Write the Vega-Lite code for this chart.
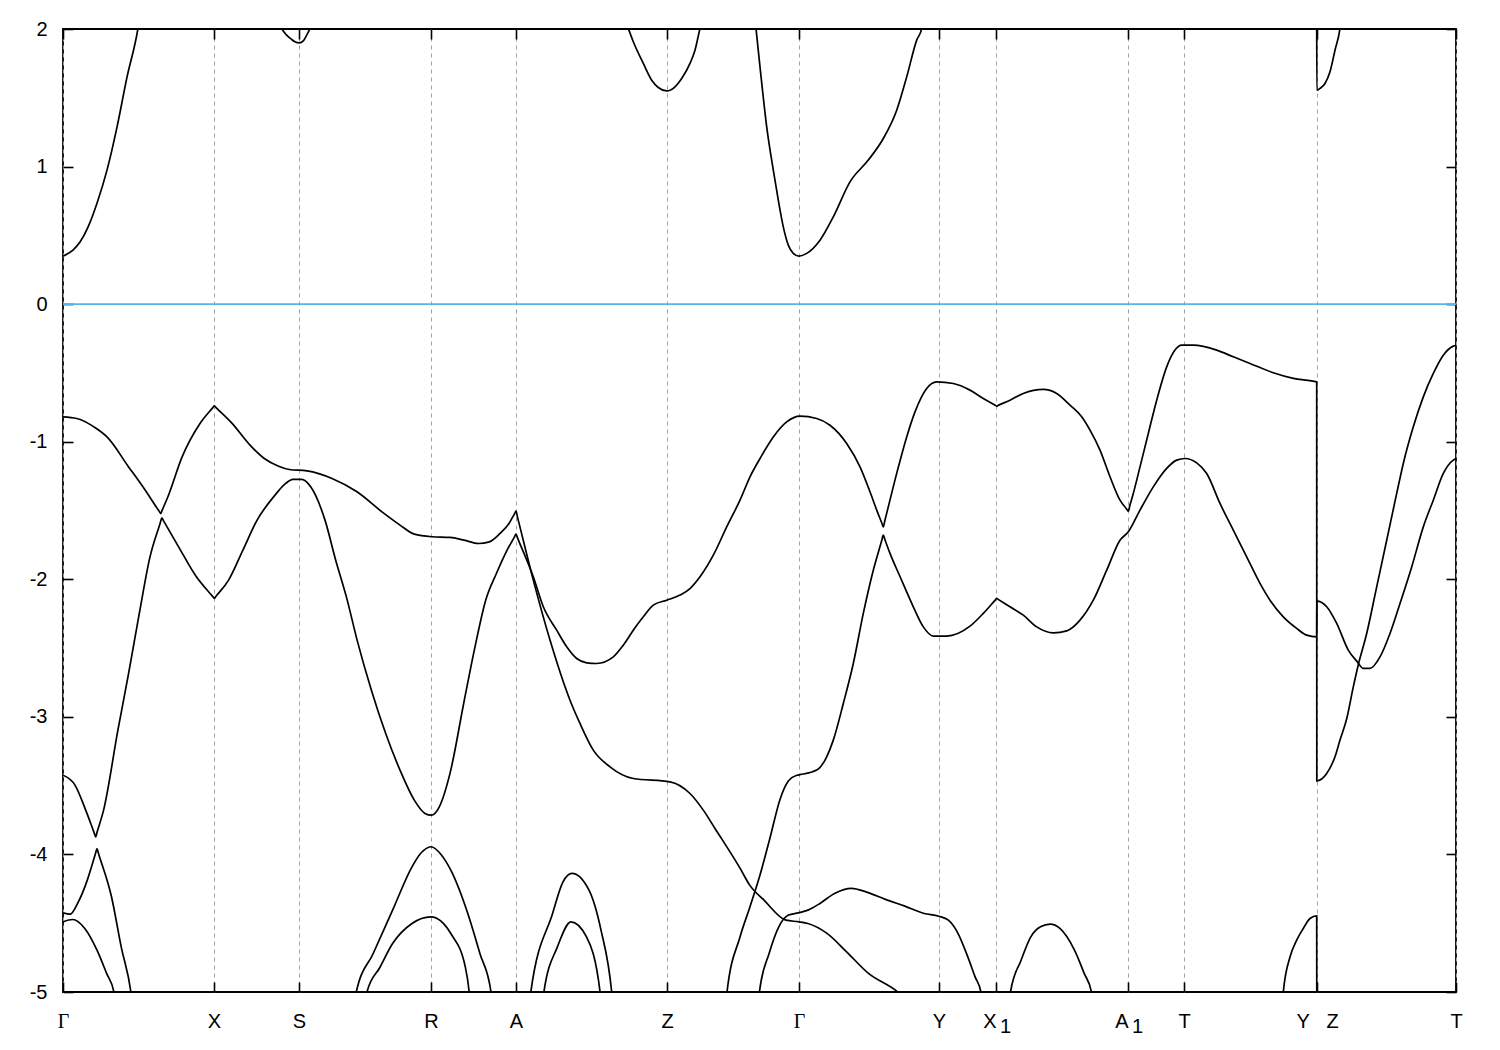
{
  "$schema": "https://vega.github.io/schema/vega-lite/v6.json",
  "width": 1393,
  "height": 963,
  "autosize": {"type": "none"},
  "padding": {"left": 63, "top": 29, "right": 44, "bottom": 58},
  "background": "white",
  "config": {
    "view": {"stroke": "black", "strokeWidth": 1.8},
    "font": "Liberation Sans",
    "axis": {"labelFont": "Liberation Sans", "labelFontSize": 20, "labelColor": "black", "tickColor": "black", "tickWidth": 1.6, "domain": false, "labelFlush": false, "labelOverlap": false, "title": null}
  },
  "datasets": {
    "bands": [
      {"b":"C1","k":0,"E":0.349},{"b":"C1","k":10,"E":0.393},{"b":"C1","k":17,"E":0.451},{"b":"C1","k":25,"E":0.56},{"b":"C1","k":34,"E":0.734},{"b":"C1","k":44,"E":0.974},{"b":"C1","k":54,"E":1.287},{"b":"C1","k":64,"E":1.65},{"b":"C1","k":75,"E":2.006},{"b":"C1","k":77,"E":2.1},
      {"b":"C2","k":216,"E":2.05},{"b":"C2","k":218.7,"E":2.004},{"b":"C2","k":223.7,"E":1.955},{"b":"C2","k":228.7,"E":1.924},{"b":"C2","k":232,"E":1.907},{"b":"C2","k":236.3,"E":1.899},{"b":"C2","k":240.3,"E":1.914},{"b":"C2","k":243.7,"E":1.955},{"b":"C2","k":247,"E":2.004},{"b":"C2","k":249.5,"E":2.05},
      {"b":"C3","k":562.3,"E":2.06},{"b":"C3","k":565.3,"E":2.004},{"b":"C3","k":570.3,"E":1.907},{"b":"C3","k":580.3,"E":1.75},{"b":"C3","k":588.7,"E":1.628},{"b":"C3","k":595.3,"E":1.575},{"b":"C3","k":603.7,"E":1.55},{"b":"C3","k":612,"E":1.58},{"b":"C3","k":618.7,"E":1.64},{"b":"C3","k":627,"E":1.75},{"b":"C3","k":632,"E":1.846},{"b":"C3","k":637,"E":2.004},{"b":"C3","k":639,"E":2.06},
      {"b":"C4","k":692.2,"E":2.06},{"b":"C4","k":693,"E":2.004},{"b":"C4","k":697,"E":1.725},{"b":"C4","k":703.7,"E":1.289},{"b":"C4","k":710.3,"E":0.974},{"b":"C4","k":715.3,"E":0.756},{"b":"C4","k":720.3,"E":0.562},{"b":"C4","k":725.3,"E":0.429},{"b":"C4","k":730.3,"E":0.369},{"b":"C4","k":736,"E":0.349},{"b":"C4","k":743.7,"E":0.369},{"b":"C4","k":757,"E":0.465},{"b":"C4","k":770.3,"E":0.635},{"b":"C4","k":787,"E":0.889},{"b":"C4","k":805.3,"E":1.047},{"b":"C4","k":820.3,"E":1.204},{"b":"C4","k":833.7,"E":1.41},{"b":"C4","k":843.7,"E":1.652},{"b":"C4","k":853.7,"E":1.919},{"b":"C4","k":858.7,"E":2.004},{"b":"C4","k":860,"E":2.06},
      {"b":"C5","k":1253.7,"E":2.1},{"b":"C5","k":1253.8,"E":1.555},{"b":"C5","k":1257,"E":1.568},{"b":"C5","k":1262,"E":1.604},{"b":"C5","k":1267,"E":1.689},{"b":"C5","k":1272,"E":1.846},{"b":"C5","k":1277,"E":2.004},{"b":"C5","k":1278,"E":2.06},
      {"b":"V1","k":0,"E":-0.819},{"b":"V1","k":13.8,"E":-0.831},{"b":"V1","k":33.4,"E":-0.904},{"b":"V1","k":44,"E":-0.965},{"b":"V1","k":65.6,"E":-1.183},{"b":"V1","k":79.9,"E":-1.328},{"b":"V1","k":96.2,"E":-1.506},{"b":"V1","k":97.7,"E":-1.522},{"b":"V1","k":99.2,"E":-1.497},{"b":"V1","k":104.9,"E":-1.4},{"b":"V1","k":119.1,"E":-1.11},{"b":"V1","k":137,"E":-0.867},{"b":"V1","k":149.8,"E":-0.752},{"b":"V1","k":151.3,"E":-0.739},{"b":"V1","k":152.8,"E":-0.75},{"b":"V1","k":169.1,"E":-0.867},{"b":"V1","k":187,"E":-1.025},{"b":"V1","k":201.3,"E":-1.122},{"b":"V1","k":215.6,"E":-1.178},{"b":"V1","k":226.3,"E":-1.202},{"b":"V1","k":244,"E":-1.212},{"b":"V1","k":269,"E":-1.267},{"b":"V1","k":294,"E":-1.364},{"b":"V1","k":319,"E":-1.51},{"b":"V1","k":337,"E":-1.606},{"b":"V1","k":351.3,"E":-1.672},{"b":"V1","k":369,"E":-1.691},{"b":"V1","k":387,"E":-1.696},{"b":"V1","k":401,"E":-1.715},{"b":"V1","k":415.6,"E":-1.74},{"b":"V1","k":426.3,"E":-1.728},{"b":"V1","k":437,"E":-1.667},{"b":"V1","k":446,"E":-1.594},{"b":"V1","k":451.5,"E":-1.524},{"b":"V1","k":453,"E":-1.505},{"b":"V1","k":454.5,"E":-1.548},{"b":"V1","k":470.3,"E":-2.006},{"b":"V1","k":487,"E":-2.442},{"b":"V1","k":507,"E":-2.879},{"b":"V1","k":517,"E":-3.048},{"b":"V1","k":530.3,"E":-3.242},{"b":"V1","k":547,"E":-3.363},{"b":"V1","k":570.3,"E":-3.448},{"b":"V1","k":607,"E":-3.472},{"b":"V1","k":627,"E":-3.557},{"b":"V1","k":640.3,"E":-3.678},{"b":"V1","k":652,"E":-3.811},{"b":"V1","k":677,"E":-4.1},{"b":"V1","k":686.7,"E":-4.223},{"b":"V1","k":701,"E":-4.332},{"b":"V1","k":723,"E":-4.478},{"b":"V1","k":736,"E":-4.49},{"b":"V1","k":744.9,"E":-4.502},{"b":"V1","k":764,"E":-4.574},{"b":"V1","k":783.6,"E":-4.708},{"b":"V1","k":805.5,"E":-4.865},{"b":"V1","k":834.5,"E":-4.999},{"b":"V1","k":842,"E":-5.05},
      {"b":"V2","k":0,"E":-3.424},{"b":"V2","k":12,"E":-3.496},{"b":"V2","k":22.7,"E":-3.678},{"b":"V2","k":31.2,"E":-3.843},{"b":"V2","k":32.7,"E":-3.872},{"b":"V2","k":34.2,"E":-3.835},{"b":"V2","k":40.6,"E":-3.678},{"b":"V2","k":54.9,"E":-3.097},{"b":"V2","k":65.6,"E":-2.684},{"b":"V2","k":76.3,"E":-2.248},{"b":"V2","k":87,"E":-1.837},{"b":"V2","k":97.3,"E":-1.589},{"b":"V2","k":98.8,"E":-1.553},{"b":"V2","k":100.3,"E":-1.572},{"b":"V2","k":115.6,"E":-1.764},{"b":"V2","k":133.4,"E":-1.982},{"b":"V2","k":149.8,"E":-2.126},{"b":"V2","k":151.3,"E":-2.139},{"b":"V2","k":152.8,"E":-2.125},{"b":"V2","k":165.6,"E":-2.006},{"b":"V2","k":179.9,"E":-1.788},{"b":"V2","k":194.1,"E":-1.57},{"b":"V2","k":212,"E":-1.388},{"b":"V2","k":222.7,"E":-1.303},{"b":"V2","k":229.9,"E":-1.274},{"b":"V2","k":238.8,"E":-1.274},{"b":"V2","k":247.7,"E":-1.328},{"b":"V2","k":262,"E":-1.57},{"b":"V2","k":272.7,"E":-1.861},{"b":"V2","k":283.4,"E":-2.128},{"b":"V2","k":294.1,"E":-2.442},{"b":"V2","k":308.4,"E":-2.806},{"b":"V2","k":322.7,"E":-3.121},{"b":"V2","k":337,"E":-3.387},{"b":"V2","k":351.3,"E":-3.605},{"b":"V2","k":362,"E":-3.702},{"b":"V2","k":368.4,"E":-3.715},{"b":"V2","k":376.3,"E":-3.654},{"b":"V2","k":387,"E":-3.411},{"b":"V2","k":401.3,"E":-2.879},{"b":"V2","k":412,"E":-2.491},{"b":"V2","k":422.7,"E":-2.152},{"b":"V2","k":433.4,"E":-1.958},{"b":"V2","k":444.1,"E":-1.788},{"b":"V2","k":451.5,"E":-1.692},{"b":"V2","k":453,"E":-1.672},{"b":"V2","k":454.5,"E":-1.699},{"b":"V2","k":470.3,"E":-1.982},{"b":"V2","k":480.3,"E":-2.2},{"b":"V2","k":493.7,"E":-2.37},{"b":"V2","k":503.7,"E":-2.491},{"b":"V2","k":513.7,"E":-2.576},{"b":"V2","k":523.7,"E":-2.607},{"b":"V2","k":533.7,"E":-2.612},{"b":"V2","k":550.3,"E":-2.564},{"b":"V2","k":560.3,"E":-2.479},{"b":"V2","k":570.3,"E":-2.37},{"b":"V2","k":580.3,"E":-2.273},{"b":"V2","k":590.3,"E":-2.188},{"b":"V2","k":603.7,"E":-2.152},{"b":"V2","k":617,"E":-2.115},{"b":"V2","k":627,"E":-2.067},{"b":"V2","k":637,"E":-1.982},{"b":"V2","k":650.3,"E":-1.825},{"b":"V2","k":663.7,"E":-1.619},{"b":"V2","k":677,"E":-1.425},{"b":"V2","k":687,"E":-1.255},{"b":"V2","k":697,"E":-1.122},{"b":"V2","k":710.3,"E":-0.965},{"b":"V2","k":723.7,"E":-0.856},{"b":"V2","k":737,"E":-0.814},{"b":"V2","k":753.7,"E":-0.831},{"b":"V2","k":767,"E":-0.88},{"b":"V2","k":783.7,"E":-1.013},{"b":"V2","k":797,"E":-1.183},{"b":"V2","k":807,"E":-1.364},{"b":"V2","k":813.7,"E":-1.497},{"b":"V2","k":818.8,"E":-1.591},{"b":"V2","k":820.3,"E":-1.619},{"b":"V2","k":821.8,"E":-1.575},{"b":"V2","k":823.7,"E":-1.52},{"b":"V2","k":833.7,"E":-1.23},{"b":"V2","k":843.7,"E":-0.965},{"b":"V2","k":852,"E":-0.783},{"b":"V2","k":863.7,"E":-0.613},{"b":"V2","k":873.7,"E":-0.565},{"b":"V2","k":890.3,"E":-0.577},{"b":"V2","k":907,"E":-0.625},{"b":"V2","k":920.3,"E":-0.686},{"b":"V2","k":932.2,"E":-0.735},{"b":"V2","k":933.7,"E":-0.741},{"b":"V2","k":935.2,"E":-0.736},{"b":"V2","k":947,"E":-0.698},{"b":"V2","k":960.3,"E":-0.649},{"b":"V2","k":980.3,"E":-0.62},{"b":"V2","k":993.7,"E":-0.649},{"b":"V2","k":1007,"E":-0.734},{"b":"V2","k":1018.7,"E":-0.819},{"b":"V2","k":1027,"E":-0.916},{"b":"V2","k":1037,"E":-1.061},{"b":"V2","k":1047,"E":-1.255},{"b":"V2","k":1057,"E":-1.425},{"b":"V2","k":1063.8,"E":-1.491},{"b":"V2","k":1065.3,"E":-1.505},{"b":"V2","k":1066.8,"E":-1.466},{"b":"V2","k":1070.3,"E":-1.376},{"b":"V2","k":1077,"E":-1.183},{"b":"V2","k":1085.3,"E":-0.94},{"b":"V2","k":1093.7,"E":-0.698},{"b":"V2","k":1103.7,"E":-0.456},{"b":"V2","k":1112,"E":-0.334},{"b":"V2","k":1118.7,"E":-0.298},{"b":"V2","k":1130.3,"E":-0.298},{"b":"V2","k":1153.7,"E":-0.334},{"b":"V2","k":1170.3,"E":-0.383},{"b":"V2","k":1187,"E":-0.431},{"b":"V2","k":1210.3,"E":-0.499},{"b":"V2","k":1230.3,"E":-0.54},{"b":"V2","k":1253.7,"E":-0.565},{"b":"V2","k":1253.8,"E":-3.465},{"b":"V2","k":1263.7,"E":-3.411},{"b":"V2","k":1272,"E":-3.29},{"b":"V2","k":1277,"E":-3.169},{"b":"V2","k":1283.7,"E":-3.014},{"b":"V2","k":1290.3,"E":-2.782},{"b":"V2","k":1295,"E":-2.63},{"b":"V2","k":1303.7,"E":-2.394},{"b":"V2","k":1313.7,"E":-2.055},{"b":"V2","k":1323.7,"E":-1.716},{"b":"V2","k":1333.7,"E":-1.376},{"b":"V2","k":1340.3,"E":-1.158},{"b":"V2","k":1350.3,"E":-0.892},{"b":"V2","k":1360.3,"E":-0.674},{"b":"V2","k":1370.3,"E":-0.504},{"b":"V2","k":1380.3,"E":-0.371},{"b":"V2","k":1390.3,"E":-0.305},{"b":"V2","k":1393.7,"E":-0.298},
      {"b":"V3","k":662.5,"E":-5.1},{"b":"V3","k":664,"E":-5.0},{"b":"V3","k":677,"E":-4.6},{"b":"V3","k":687,"E":-4.38},{"b":"V3","k":697,"E":-4.15},{"b":"V3","k":707,"E":-3.88},{"b":"V3","k":717,"E":-3.6},{"b":"V3","k":725,"E":-3.47},{"b":"V3","k":734,"E":-3.424},{"b":"V3","k":737,"E":-3.42},{"b":"V3","k":753.7,"E":-3.387},{"b":"V3","k":763.7,"E":-3.29},{"b":"V3","k":770.3,"E":-3.169},{"b":"V3","k":780.3,"E":-2.903},{"b":"V3","k":790.3,"E":-2.612},{"b":"V3","k":800.3,"E":-2.248},{"b":"V3","k":810.3,"E":-1.934},{"b":"V3","k":818.8,"E":-1.717},{"b":"V3","k":820.3,"E":-1.679},{"b":"V3","k":821.8,"E":-1.709},{"b":"V3","k":827,"E":-1.812},{"b":"V3","k":837,"E":-1.98},{"b":"V3","k":850.3,"E":-2.2},{"b":"V3","k":860.3,"E":-2.346},{"b":"V3","k":870.3,"E":-2.413},{"b":"V3","k":883.7,"E":-2.413},{"b":"V3","k":907,"E":-2.341},{"b":"V3","k":920.3,"E":-2.248},{"b":"V3","k":932.2,"E":-2.151},{"b":"V3","k":933.7,"E":-2.139},{"b":"V3","k":935.2,"E":-2.146},{"b":"V3","k":947,"E":-2.2},{"b":"V3","k":960.3,"E":-2.261},{"b":"V3","k":973.7,"E":-2.346},{"b":"V3","k":990.3,"E":-2.389},{"b":"V3","k":1003.7,"E":-2.375},{"b":"V3","k":1017,"E":-2.297},{"b":"V3","k":1030.3,"E":-2.152},{"b":"V3","k":1043.7,"E":-1.934},{"b":"V3","k":1057,"E":-1.716},{"b":"V3","k":1065.3,"E":-1.655},{"b":"V3","k":1077,"E":-1.497},{"b":"V3","k":1090.3,"E":-1.328},{"b":"V3","k":1103.7,"E":-1.194},{"b":"V3","k":1113.7,"E":-1.134},{"b":"V3","k":1122,"E":-1.122},{"b":"V3","k":1133.7,"E":-1.154},{"b":"V3","k":1143.7,"E":-1.231},{"b":"V3","k":1157,"E":-1.449},{"b":"V3","k":1170.3,"E":-1.643},{"b":"V3","k":1183.7,"E":-1.837},{"b":"V3","k":1197,"E":-2.03},{"b":"V3","k":1207,"E":-2.152},{"b":"V3","k":1220.3,"E":-2.273},{"b":"V3","k":1233.7,"E":-2.357},{"b":"V3","k":1243.7,"E":-2.406},{"b":"V3","k":1253.7,"E":-2.418},{"b":"V3","k":1253.8,"E":-2.159},{"b":"V3","k":1263.7,"E":-2.2},{"b":"V3","k":1273.7,"E":-2.321},{"b":"V3","k":1285.3,"E":-2.515},{"b":"V3","k":1294.3,"E":-2.6},{"b":"V3","k":1300.3,"E":-2.648},{"b":"V3","k":1307,"E":-2.648},{"b":"V3","k":1317,"E":-2.564},{"b":"V3","k":1327,"E":-2.394},{"b":"V3","k":1337,"E":-2.176},{"b":"V3","k":1348.7,"E":-1.91},{"b":"V3","k":1360.3,"E":-1.619},{"b":"V3","k":1370.3,"E":-1.425},{"b":"V3","k":1380.3,"E":-1.231},{"b":"V3","k":1390.3,"E":-1.134},{"b":"V3","k":1393.7,"E":-1.122},
      {"b":"V4","k":0,"E":-4.425},{"b":"V4","k":7.3,"E":-4.434},{"b":"V4","k":14.6,"E":-4.356},{"b":"V4","k":24.3,"E":-4.187},{"b":"V4","k":32.5,"E":-3.993},{"b":"V4","k":34,"E":-3.957},{"b":"V4","k":35.5,"E":-3.993},{"b":"V4","k":48.5,"E":-4.308},{"b":"V4","k":58.2,"E":-4.672},{"b":"V4","k":67.9,"E":-5.0},{"b":"V4","k":69,"E":-5.06},
      {"b":"V5","k":0,"E":-4.49},{"b":"V5","k":9.7,"E":-4.473},{"b":"V5","k":21.8,"E":-4.538},{"b":"V5","k":34,"E":-4.696},{"b":"V5","k":43.6,"E":-4.865},{"b":"V5","k":50.9,"E":-5.0},{"b":"V5","k":52,"E":-5.06},
      {"b":"V6","k":292,"E":-5.06},{"b":"V6","k":293.3,"E":-5.0},{"b":"V6","k":310.2,"E":-4.72},{"b":"V6","k":329.6,"E":-4.405},{"b":"V6","k":349,"E":-4.09},{"b":"V6","k":358,"E":-3.99},{"b":"V6","k":368,"E":-3.944},{"b":"V6","k":378,"E":-4.0},{"b":"V6","k":387.8,"E":-4.114},{"b":"V6","k":404.8,"E":-4.429},{"b":"V6","k":416.9,"E":-4.72},{"b":"V6","k":428,"E":-5.0},{"b":"V6","k":429,"E":-5.06},
      {"b":"V7","k":303,"E":-5.06},{"b":"V7","k":304,"E":-5.0},{"b":"V7","k":317,"E":-4.82},{"b":"V7","k":329.6,"E":-4.648},{"b":"V7","k":349,"E":-4.502},{"b":"V7","k":367.9,"E":-4.454},{"b":"V7","k":387.8,"E":-4.575},{"b":"V7","k":402.3,"E":-4.817},{"b":"V7","k":406.2,"E":-5.0},{"b":"V7","k":407,"E":-5.06},
      {"b":"V8","k":467,"E":-5.06},{"b":"V8","k":467.8,"E":-5.0},{"b":"V8","k":489.6,"E":-4.429},{"b":"V8","k":500,"E":-4.2},{"b":"V8","k":509,"E":-4.138},{"b":"V8","k":526,"E":-4.26},{"b":"V8","k":538,"E":-4.55},{"b":"V8","k":548.7,"E":-5.0},{"b":"V8","k":549.5,"E":-5.06},
      {"b":"V9","k":480,"E":-5.06},{"b":"V9","k":480.9,"E":-5.0},{"b":"V9","k":494.4,"E":-4.672},{"b":"V9","k":508,"E":-4.49},{"b":"V9","k":523.5,"E":-4.599},{"b":"V9","k":537.1,"E":-5.0},{"b":"V9","k":537.8,"E":-5.06},
      {"b":"V10","k":696,"E":-5.06},{"b":"V10","k":696.4,"E":-5.0},{"b":"V10","k":706.1,"E":-4.72},{"b":"V10","k":715.8,"E":-4.526},{"b":"V10","k":725.5,"E":-4.441},{"b":"V10","k":735.2,"E":-4.425},{"b":"V10","k":744.9,"E":-4.405},{"b":"V10","k":757,"E":-4.356},{"b":"V10","k":771.5,"E":-4.284},{"b":"V10","k":788.5,"E":-4.247},{"b":"V10","k":803,"E":-4.272},{"b":"V10","k":822.4,"E":-4.327},{"b":"V10","k":841.8,"E":-4.376},{"b":"V10","k":861.2,"E":-4.429},{"b":"V10","k":875.7,"E":-4.449},{"b":"V10","k":885.4,"E":-4.478},{"b":"V10","k":895.1,"E":-4.575},{"b":"V10","k":904.8,"E":-4.745},{"b":"V10","k":912.1,"E":-4.89},{"b":"V10","k":917.9,"E":-5.0},{"b":"V10","k":918.5,"E":-5.06},
      {"b":"V11","k":947,"E":-5.06},{"b":"V11","k":947.5,"E":-5.0},{"b":"V11","k":958.1,"E":-4.769},{"b":"V11","k":967.8,"E":-4.599},{"b":"V11","k":977.5,"E":-4.526},{"b":"V11","k":987.2,"E":-4.507},{"b":"V11","k":996.9,"E":-4.538},{"b":"V11","k":1011.5,"E":-4.696},{"b":"V11","k":1021.2,"E":-4.865},{"b":"V11","k":1028.4,"E":-5.0},{"b":"V11","k":1029,"E":-5.06},
      {"b":"V12","k":1219.7,"E":-5.06},{"b":"V12","k":1220.3,"E":-5.0},{"b":"V12","k":1227,"E":-4.745},{"b":"V12","k":1233.7,"E":-4.623},{"b":"V12","k":1240.3,"E":-4.538},{"b":"V12","k":1247,"E":-4.466},{"b":"V12","k":1253.7,"E":-4.447},{"b":"V12","k":1253.8,"E":-5.1}
    ],
    "subs": [{"k": 933, "s": "1"}, {"k": 1065, "s": "1"}],
    "fermi": [{"E": 0}]
  },
  "layer": [
    {
      "data": {"name": "bands"},
      "mark": {"type": "line", "color": "black", "strokeWidth": 1.7, "clip": true, "interpolate": "monotone"},
      "encoding": {
        "x": {"field": "k", "type": "quantitative", "scale": {"domain": [0, 1393], "nice": false, "zero": false},
          "axis": {"orient": "bottom", "values": [0, 151, 236, 368, 453, 604, 736, 876, 933, 1065, 1121, 1254, 1393],
            "labelExpr": "datum.value == 0 || datum.value == 736 ? 'Γ' : datum.value == 151 ? 'X' : datum.value == 236 ? 'S' : datum.value == 368 ? 'R' : datum.value == 453 ? 'A' : datum.value == 604 ? 'Z' : datum.value == 876 ? 'Y' : datum.value == 933 ? 'X' : datum.value == 1065 ? 'A' : datum.value == 1121 ? 'T' : datum.value == 1254 ? 'Y\u00a0\u00a0\u00a0Z' : 'T'",
            "labelFont": {"condition": {"test": "datum.value == 0 || datum.value == 736", "value": "Liberation Serif"}, "value": "Liberation Sans"},
            "labelAlign": {"condition": {"test": "datum.value == 933 || datum.value == 1065", "value": "right"}, "value": "center"},
            "tickSize": -10, "labelPadding": 29, "grid": true, "gridDash": [4, 4], "gridColor": "#a0a0a0", "gridWidth": 1}},
        "y": {"field": "E", "type": "quantitative", "scale": {"domain": [-5, 2], "nice": false, "zero": false},
          "axis": {"orient": "left", "values": [-5, -4, -3, -2, -1, 0, 1, 2], "labelExpr": "datum.value + ''", "tickSize": -10, "labelPadding": 26, "grid": false}},
        "detail": {"field": "b", "type": "nominal"}
      }
    },
    {
      "data": {"name": "fermi"},
      "mark": {"type": "rule", "color": "#56b4e9", "strokeWidth": 1.8},
      "encoding": {
        "y": {"field": "E", "type": "quantitative",
          "axis": {"orient": "right", "values": [-5, -4, -3, -2, -1, 0, 1, 2], "labels": false, "tickSize": -10, "grid": false}}
      }
    },
    {
      "data": {"name": "subs"},
      "mark": {"type": "text", "font": "Liberation Sans", "fontSize": 20, "align": "left", "baseline": "alphabetic", "dx": 4, "dy": 41, "color": "black"},
      "encoding": {
        "x": {"field": "k", "type": "quantitative",
          "axis": {"orient": "top", "values": [0, 151, 236, 368, 453, 604, 736, 876, 933, 1065, 1121, 1254, 1393], "labels": false, "tickSize": -10, "grid": false}},
        "y": {"datum": -5, "axis": null},
        "text": {"field": "s"}
      }
    }
  ],
  "resolve": {"axis": {"x": "independent", "y": "independent"}}
}
